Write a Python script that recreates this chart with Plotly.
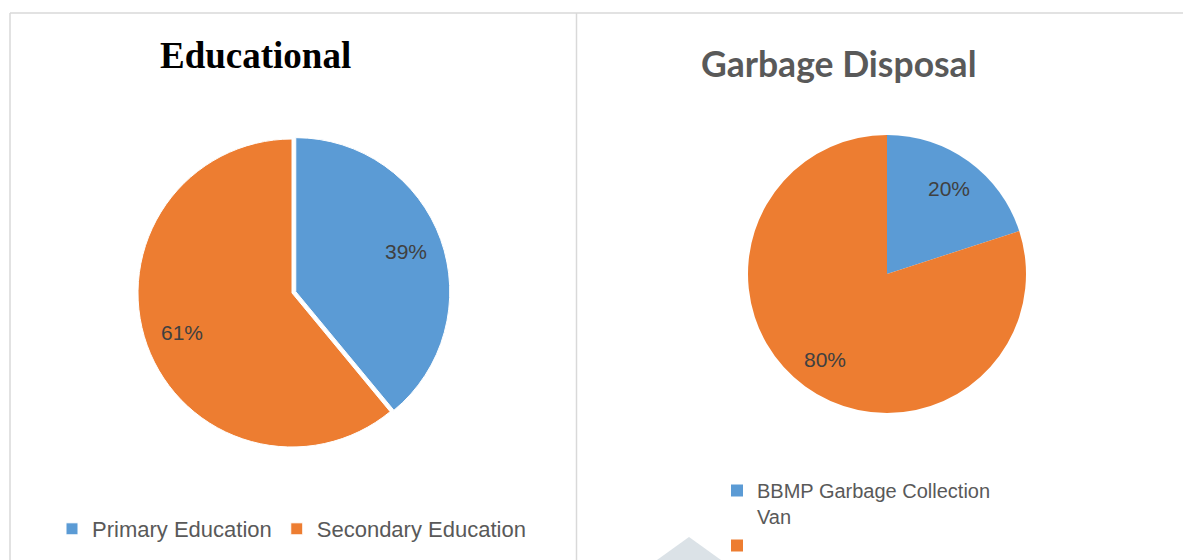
import math
import plotly.graph_objects as go

W, H = 1183, 560

edu_labels = ["Primary Education", "Secondary Education"]
edu_values = [39, 61]
garb_labels = ["BBMP Garbage Collection<br>Van", "&nbsp;<br>Dumping in Open Space"]
garb_values = [20, 80]
colors = ["#5B9BD5", "#ED7D31"]

# pie geometry (pixels)
EDU_C, EDU_R, EDU_PULL = (292, 293), 154, [0.026, 0]
GARB_C, GARB_R, GARB_PULL = (887, 274), 139, [0, 0]
LABEL_RAD = 0.76


def px_x(v):
    return v / W


def px_y(v):
    return 1 - v / H


def domain(c, r, pulls):
    half = r * (1 + max(pulls))
    return dict(x=[px_x(c[0] - half), px_x(c[0] + half)],
                y=[px_y(c[1] + half), px_y(c[1] - half)])


def pct_labels(values, c, r, pulls):
    total = sum(values)
    out = []
    cum = 0
    for v, p in zip(values, pulls):
        theta = 2 * math.pi * (cum + v / 2) / total
        d = r * LABEL_RAD + p * r
        x = c[0] + d * math.sin(theta)
        y = c[1] - d * math.cos(theta)
        out.append(dict(text=f"{round(100 * v / total)}%", x=px_x(x), y=px_y(y),
                        xref="paper", yref="paper", xanchor="center", yanchor="middle",
                        showarrow=False,
                        font=dict(family="Liberation Sans, Arial", size=21, color="#404040")))
        cum += v
    return out


fig = go.Figure()

fig.add_trace(go.Pie(
    labels=edu_labels, values=edu_values, sort=False, direction="clockwise",
    rotation=0, pull=EDU_PULL,
    marker=dict(colors=colors, line=dict(color="white", width=1)),
    textinfo="none",
    domain=domain(EDU_C, EDU_R, EDU_PULL),
    legend="legend", hoverinfo="label+percent",
))

fig.add_trace(go.Pie(
    labels=garb_labels, values=garb_values, sort=False, direction="clockwise",
    rotation=0, pull=GARB_PULL,
    marker=dict(colors=colors, line=dict(color="white", width=0)),
    textinfo="none",
    domain=domain(GARB_C, GARB_R, GARB_PULL),
    legend="legend2", hoverinfo="label+percent",
))

border = "#d9d9d9"
shapes = [
    dict(type="line", xref="paper", yref="paper", x0=px_x(10), x1=1, y0=px_y(13), y1=px_y(13),
         line=dict(color=border, width=1.5)),
    dict(type="line", xref="paper", yref="paper", x0=px_x(10), x1=px_x(10), y0=px_y(13), y1=0,
         line=dict(color=border, width=1.5)),
    dict(type="line", xref="paper", yref="paper", x0=px_x(576.5), x1=px_x(576.5), y0=px_y(13), y1=0,
         line=dict(color=border, width=1.5)),
    dict(type="path", xref="paper", yref="paper",
         path=f"M {px_x(657)} 0 L {px_x(689)} {px_y(537)} L {px_x(721)} 0 Z",
         fillcolor="#dbe2e7", line=dict(width=0), layer="below"),
]

annotations = [
    dict(text="<b>Educational</b>", x=px_x(255), y=px_y(56), xref="paper", yref="paper",
         xanchor="center", yanchor="middle", showarrow=False,
         font=dict(family="Liberation Serif, Times New Roman", size=37, color="#000000")),
    dict(text="<b>Garbage Disposal</b>", x=px_x(838), y=px_y(63), xref="paper", yref="paper",
         xanchor="center", yanchor="middle", showarrow=False,
         font=dict(family="Lato, Open Sans", size=35.5, color="#595959")),
]
annotations += pct_labels(edu_values, EDU_C, EDU_R, EDU_PULL)
annotations += pct_labels(garb_values, GARB_C, GARB_R, GARB_PULL)

fig.update_layout(
    width=W, height=H,
    margin=dict(l=0, r=0, t=0, b=0, autoexpand=False),
    paper_bgcolor="white", plot_bgcolor="white",
    shapes=shapes, annotations=annotations,
    legend=dict(orientation="h", x=px_x(52), xanchor="left", y=px_y(529), yanchor="middle",
                font=dict(family="Liberation Sans, Arial", size=22, color="#595959"),
                bgcolor="rgba(0,0,0,0)"),
    legend2=dict(orientation="v", x=px_x(717), xanchor="left", y=px_y(471), yanchor="top",
                 valign="top",
                 font=dict(family="Liberation Sans, Arial", size=20, color="#595959"),
                 bgcolor="rgba(0,0,0,0)"),
)

fig.write_html("out.html")
